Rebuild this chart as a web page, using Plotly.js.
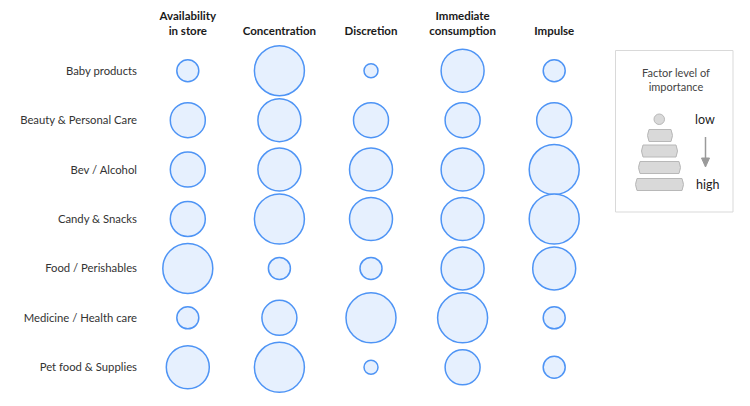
<!DOCTYPE html>
<html>
<head>
<meta charset="utf-8">
<script src="https://cdn.plot.ly/plotly-3.0.1.min.js"></script>
<style>html,body{margin:0;padding:0;background:#fff;}#chart{width:750px;height:406px;}</style>
</head>
<body>
<div id="chart"></div>
<script>
// ---- data ----
const factors = ["Availability<br>in store", "Concentration", "Discretion", "Immediate<br>consumption", "Impulse"];
const categories = ["Baby products", "Beauty & Personal Care", "Bev / Alcohol", "Candy & Snacks",
                    "Food / Perishables", "Medicine / Health care", "Pet food & Supplies"];
// importance level 1 (low) .. 5 (high), one array per factor, in category order
const availability = [2, 3, 3, 3, 5, 2, 4];
const concentration = [5, 4, 4, 5, 2, 3, 5];
const discretion = [1, 3, 4, 4, 2, 5, 1];
const immediate = [4, 3, 4, 4, 4, 5, 3];
const impulse = [2, 3, 5, 5, 4, 2, 2];
const levelSeries = [availability, concentration, discretion, immediate, impulse];

// ---- style ----
const diameterForLevel = {1: 14, 2: 22, 3: 35, 4: 43, 5: 50};
const W = 750, H = 406;
const M = {l: 142, r: 150, t: 46, b: 14};
const pw = W - M.l - M.r, ph = H - M.t - M.b;
const px = x => (x - M.l) / pw;
const py = y => (H - M.b - y) / ph;

const xs = [], ys = [], sizes = [];
levelSeries.forEach((arr, fi) => {
  arr.forEach((lv, ci) => {
    xs.push(factors[fi]); ys.push(categories[ci]); sizes.push(diameterForLevel[lv]);
  });
});

const trace = {
  type: "scatter", mode: "markers", x: xs, y: ys,
  marker: {size: sizes, sizemode: "diameter", color: "#e6f0fe", opacity: 1,
           line: {color: "#4e94f5", width: 1.5}},
  hoverinfo: "x+y", cliponaxis: false
};

// legend decorations
const shapes = [];
const annotations = [];
shapes.push({type: "rect", xref: "paper", yref: "paper", x0: px(615.5), x1: px(733), y0: py(50.5), y1: py(212),
             line: {color: "#d9d9d9", width: 1}, fillcolor: "rgba(0,0,0,0)"});
shapes.push({type: "circle", xref: "paper", yref: "paper", x0: px(654), x1: px(664.5), y0: py(114), y1: py(124.5),
             line: {color: "#b8b8b8", width: 1}, fillcolor: "#d9d9d9"});
function barrel(cx, cy, w, h) {
  const x0 = px(cx - w / 2), x1 = px(cx + w / 2), y0 = py(cy + h / 2), y1 = py(cy - h / 2);
  const bx = 3 / pw;
  const ym = (y0 + y1) / 2;
  return {type: "path", xref: "paper", yref: "paper",
          path: `M ${x0} ${y0} L ${x1} ${y0} Q ${x1 + bx} ${ym} ${x1} ${y1} L ${x0} ${y1} Q ${x0 - bx} ${ym} ${x0} ${y0} Z`,
          line: {color: "#b8b8b8", width: 1}, fillcolor: "#d9d9d9"};
}
shapes.push(barrel(660, 135.5, 22, 12));
shapes.push(barrel(659.5, 151, 33, 12));
shapes.push(barrel(659.5, 167.5, 39, 12));
shapes.push(barrel(659.5, 184.5, 45, 12));
shapes.push({type: "line", xref: "paper", yref: "paper", x0: px(705.5), x1: px(705.5), y0: py(137), y1: py(160),
             line: {color: "#9a9a9a", width: 1.5}});
shapes.push({type: "path", xref: "paper", yref: "paper",
             path: `M ${px(701.5)} ${py(158)} L ${px(709.5)} ${py(158)} L ${px(705.5)} ${py(167)} Z`,
             fillcolor: "#9a9a9a", line: {color: "#9a9a9a", width: 1}});
annotations.push({xref: "paper", yref: "paper", x: px(675.5), y: py(79), xanchor: "center", yanchor: "middle",
                  text: "Factor level of<br>importance",
                  showarrow: false, font: {size: 11, color: "#444"}, align: "center"});
annotations.push({xref: "paper", yref: "paper", x: px(704.5), y: py(120), xanchor: "center", yanchor: "middle",
                  text: "low", showarrow: false, font: {size: 12.5, color: "#222"}});
annotations.push({xref: "paper", yref: "paper", x: px(707), y: py(184), xanchor: "center", yanchor: "middle",
                  text: "high", showarrow: false, font: {size: 12.5, color: "#222"}});

const layout = {
  width: W, height: H,
  margin: M,
  paper_bgcolor: "#fff", plot_bgcolor: "#fff",
  font: {family: "Lato, 'Open Sans', sans-serif", color: "#333", size: 11.3},
  showlegend: false,
  xaxis: {type: "category", categoryorder: "array", categoryarray: factors, side: "top",
          range: [-0.5, 4.5], showgrid: false, zeroline: false, showline: false, ticks: "",
          tickvals: factors, ticktext: factors.map(f => "<b>" + f + "</b>"),
          tickfont: {size: 11.5, color: "#1a1a1a"}, ticklabelstandoff: 8, fixedrange: true},
  yaxis: {type: "category", categoryorder: "array", categoryarray: categories, autorange: false,
          range: [6.5, -0.5], showgrid: false, zeroline: false, showline: false, ticks: "",
          tickfont: {size: 11.3, color: "#333"}, ticklabelstandoff: 4, fixedrange: true},
  shapes: shapes, annotations: annotations
};

Plotly.newPlot("chart", [trace], layout, {displayModeBar: false, staticPlot: true});
</script>
</body>
</html>
